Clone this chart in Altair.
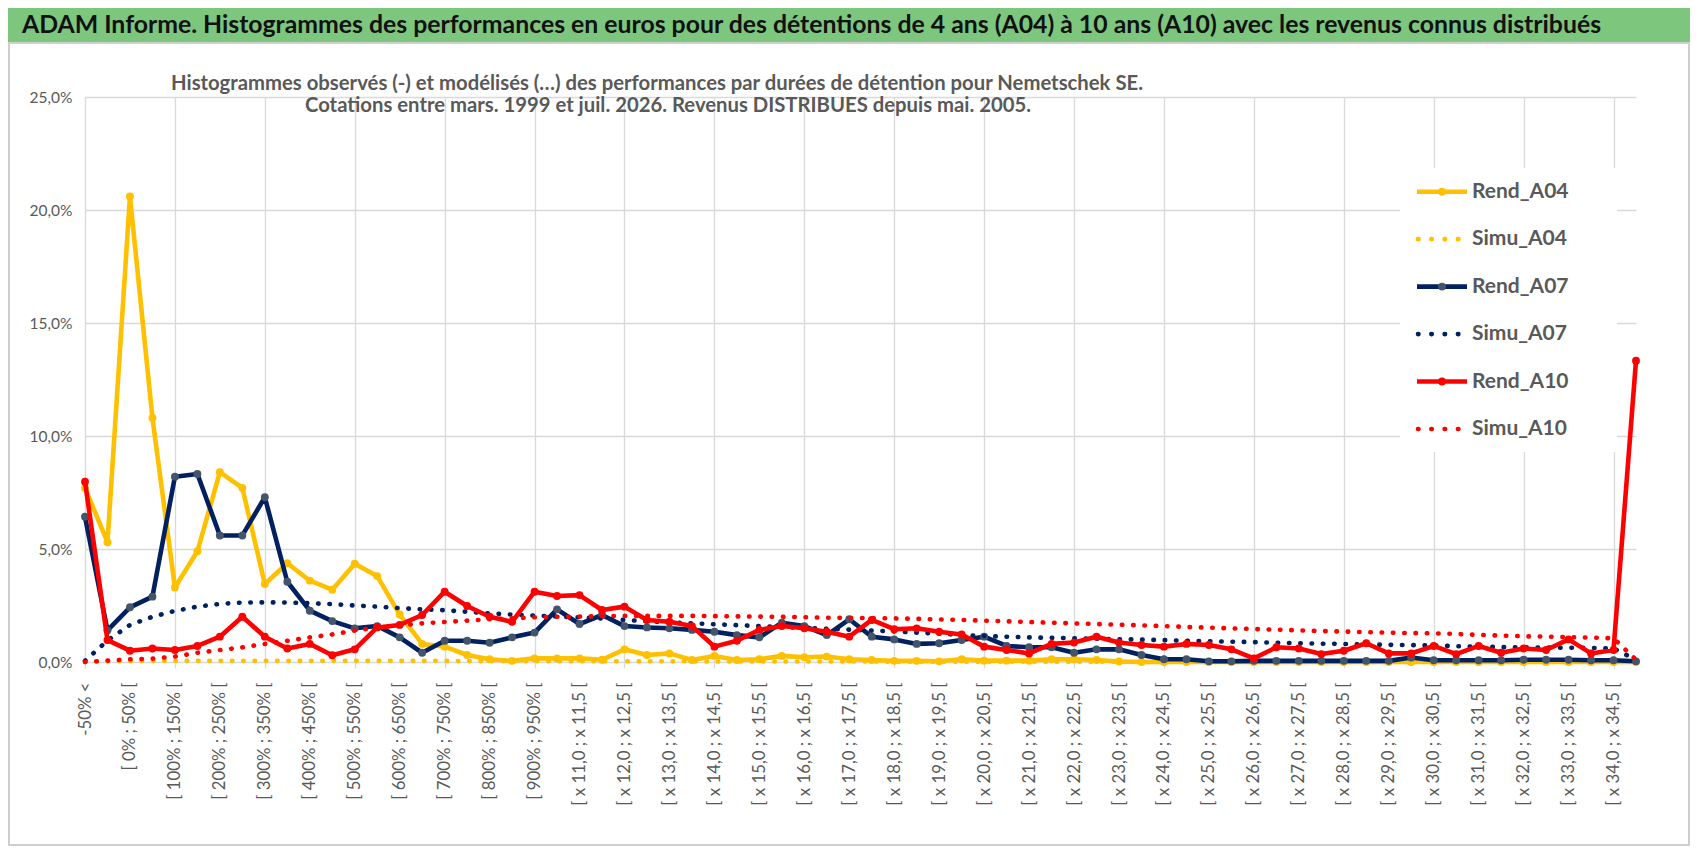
import json
import altair as alt
import pandas as pd

# ---------------- data ----------------
categories = [
    "-50% <", "[ -50% ; 0% [", "[ 0% ; 50% [", "[ 50% ; 100% [", "[ 100% ; 150% [",
    "[ 150% ; 200% [", "[ 200% ; 250% [", "[ 250% ; 300% [", "[ 300% ; 350% [", "[ 350% ; 400% [",
    "[ 400% ; 450% [", "[ 450% ; 500% [", "[ 500% ; 550% [", "[ 550% ; 600% [", "[ 600% ; 650% [",
    "[ 650% ; 700% [", "[ 700% ; 750% [", "[ 750% ; 800% [", "[ 800% ; 850% [", "[ 850% ; 900% [",
    "[ 900% ; 950% [", "[ 950% ; x 11,0 [", "[ x 11,0 ; x 11,5 [", "[ x 11,5 ; x 12,0 [", "[ x 12,0 ; x 12,5 [",
    "[ x 12,5 ; x 13,0 [", "[ x 13,0 ; x 13,5 [", "[ x 13,5 ; x 14,0 [", "[ x 14,0 ; x 14,5 [", "[ x 14,5 ; x 15,0 [",
    "[ x 15,0 ; x 15,5 [", "[ x 15,5 ; x 16,0 [", "[ x 16,0 ; x 16,5 [", "[ x 16,5 ; x 17,0 [", "[ x 17,0 ; x 17,5 [",
    "[ x 17,5 ; x 18,0 [", "[ x 18,0 ; x 18,5 [", "[ x 18,5 ; x 19,0 [", "[ x 19,0 ; x 19,5 [", "[ x 19,5 ; x 20,0 [",
    "[ x 20,0 ; x 20,5 [", "[ x 20,5 ; x 21,0 [", "[ x 21,0 ; x 21,5 [", "[ x 21,5 ; x 22,0 [", "[ x 22,0 ; x 22,5 [",
    "[ x 22,5 ; x 23,0 [", "[ x 23,0 ; x 23,5 [", "[ x 23,5 ; x 24,0 [", "[ x 24,0 ; x 24,5 [", "[ x 24,5 ; x 25,0 [",
    "[ x 25,0 ; x 25,5 [", "[ x 25,5 ; x 26,0 [", "[ x 26,0 ; x 26,5 [", "[ x 26,5 ; x 27,0 [", "[ x 27,0 ; x 27,5 [",
    "[ x 27,5 ; x 28,0 [", "[ x 28,0 ; x 28,5 [", "[ x 28,5 ; x 29,0 [", "[ x 29,0 ; x 29,5 [", "[ x 29,5 ; x 30,0 [",
    "[ x 30,0 ; x 30,5 [", "[ x 30,5 ; x 31,0 [", "[ x 31,0 ; x 31,5 [", "[ x 31,5 ; x 32,0 [", "[ x 32,0 ; x 32,5 [",
    "[ x 32,5 ; x 33,0 [", "[ x 33,0 ; x 33,5 [", "[ x 33,5 ; x 34,0 [", "[ x 34,0 ; x 34,5 [", "x 34,5 <",
]

rend_a04 = [7.7, 5.3, 20.6, 10.8, 3.3, 4.9, 8.4, 7.7, 3.45, 4.37,
            3.6, 3.2, 4.35, 3.8, 2.1, 0.8, 0.68, 0.31, 0.12, 0.05,
            0.16, 0.16, 0.16, 0.1, 0.56, 0.31, 0.38, 0.09, 0.27, 0.09,
            0.12, 0.27, 0.21, 0.24, 0.12, 0.09, 0.05, 0.05, 0.03, 0.12,
            0.06, 0.06, 0.06, 0.12, 0.12, 0.09, 0.02, 0.0, 0.0, 0.0,
            0.0, 0.0, 0.0, 0.0, 0.0, 0.0, 0.0, 0.0, 0.0, 0.0,
            0.0, 0.0, 0.0, 0.0, 0.0, 0.0, 0.0, 0.0, 0.0, 0.0]
simu_a04 = [0.0, 0.02, 0.04, 0.05, 0.05, 0.05, 0.05, 0.05, 0.05, 0.05,
            0.05, 0.05, 0.05, 0.05, 0.05, 0.05, 0.05, 0.04, 0.04, 0.04,
            0.04, 0.04, 0.03, 0.03, 0.03, 0.03, 0.03, 0.03, 0.02, 0.02,
            0.02, 0.02, 0.02, 0.02, 0.02, 0.02, 0.01, 0.01, 0.01, 0.01,
            0.01, 0.01, 0.01, 0.01, 0.01, 0.01, 0.01, 0.0, 0.0, 0.0,
            0.0, 0.0, 0.0, 0.0, 0.0, 0.0, 0.0, 0.0, 0.0, 0.0,
            0.0, 0.0, 0.0, 0.0, 0.0, 0.0, 0.0, 0.0, 0.0, 0.0]
rend_a07 = [6.43, 1.4, 2.42, 2.89, 8.2, 8.32, 5.6, 5.6, 7.29, 3.55,
            2.27, 1.81, 1.49, 1.59, 1.09, 0.41, 0.94, 0.94, 0.85, 1.09,
            1.3, 2.33, 1.68, 2.08, 1.59, 1.53, 1.49, 1.42, 1.34, 1.19,
            1.09, 1.74, 1.59, 1.19, 1.89, 1.12, 1.0, 0.8, 0.83, 0.97,
            1.12, 0.71, 0.65, 0.65, 0.41, 0.56, 0.56, 0.31, 0.12, 0.12,
            0.03, 0.03, 0.05, 0.05, 0.05, 0.05, 0.05, 0.05, 0.05, 0.2,
            0.08, 0.08, 0.08, 0.08, 0.1, 0.1, 0.1, 0.08, 0.08, 0.03]
simu_a07 = [0.05, 0.95, 1.64, 2.0, 2.26, 2.45, 2.57, 2.63, 2.64, 2.63,
            2.6, 2.56, 2.5, 2.45, 2.38, 2.33, 2.29, 2.22, 2.15, 2.1,
            2.05, 2.01, 1.98, 1.92, 1.86, 1.8, 1.75, 1.71, 1.67, 1.63,
            1.59, 1.55, 1.51, 1.47, 1.43, 1.39, 1.35, 1.3, 1.25, 1.2,
            1.15, 1.12, 1.09, 1.07, 1.05, 1.03, 1.01, 0.99, 0.97, 0.94,
            0.92, 0.9, 0.88, 0.85, 0.83, 0.81, 0.8, 0.78, 0.76, 0.75,
            0.73, 0.7, 0.68, 0.66, 0.65, 0.64, 0.63, 0.62, 0.6, 0.1]
rend_a10 = [7.98, 0.97, 0.5, 0.6, 0.53, 0.71, 1.12, 2.0, 1.12, 0.6,
            0.8, 0.3, 0.56, 1.53, 1.64, 2.08, 3.11, 2.48, 2.0, 1.78,
            3.11, 2.92, 2.96, 2.3, 2.45, 1.86, 1.78, 1.59, 0.68, 0.94,
            1.42, 1.59, 1.49, 1.34, 1.12, 1.86, 1.45, 1.49, 1.34, 1.22,
            0.68, 0.53, 0.38, 0.8, 0.86, 1.12, 0.86, 0.75, 0.68, 0.8,
            0.75, 0.56, 0.16, 0.65, 0.6, 0.35, 0.5, 0.83, 0.38, 0.38,
            0.71, 0.35, 0.71, 0.41, 0.6, 0.53, 1.0, 0.38, 0.53, 13.33]
simu_a10 = [0.0, 0.06, 0.12, 0.15, 0.24, 0.41, 0.53, 0.65, 0.8, 0.94,
            1.09, 1.22, 1.39, 1.53, 1.62, 1.71, 1.77, 1.83, 1.89, 1.93,
            1.98, 2.0, 2.01, 2.03, 2.04, 2.04, 2.04, 2.04, 2.03, 2.02,
            2.01, 2.0, 1.98, 1.96, 1.95, 1.94, 1.93, 1.91, 1.88, 1.86,
            1.83, 1.8, 1.77, 1.74, 1.71, 1.68, 1.65, 1.62, 1.59, 1.55,
            1.52, 1.49, 1.46, 1.43, 1.4, 1.37, 1.35, 1.32, 1.3, 1.28,
            1.27, 1.24, 1.2, 1.17, 1.14, 1.12, 1.1, 1.08, 1.05, 0.1]

series_names = ["Rend_A04", "Simu_A04", "Rend_A07", "Simu_A07", "Rend_A10", "Simu_A10"]
series_values = [rend_a04, simu_a04, rend_a07, simu_a07, rend_a10, simu_a10]
line_colors = ["#FFC000", "#FFC000", "#002060", "#002060", "#FF0000", "#FF0000"]
marker_colors = ["#FFC000", None, "#44546A", None, "#FF0000", None]

y_ticks = [0, 5, 10, 15, 20, 25]
x_label_ticks = list(range(0, 70, 2))

title_text = ("ADAM Informe. Histogrammes des performances en euros pour des détentions "
              "de 4 ans (A04) à 10 ans (A10) avec les revenus connus distribués")
subtitle_lines = [
    "Histogrammes observés (-) et modélisés (…) des performances par durées de détention pour Nemetschek SE.",
    "Cotations entre mars. 1999 et juil. 2026. Revenus DISTRIBUES depuis mai. 2005.",
]

# ---------------- layout ----------------
W, H = 1551, 565
FONT = "Lato"
GREY = "#595959"
GRID = "#D9D9D9"

label_expr = "[" + ",".join(json.dumps(c) for c in categories) + "][datum.value]"

x_enc = alt.X(
    "idx:Q",
    scale=alt.Scale(domain=[0, len(categories) - 1], nice=False, zero=False),
    axis=alt.Axis(
        values=x_label_ticks, labelExpr=label_expr, labelAngle=-90,
        labelFont=FONT, labelFontSize=16.8, labelColor=GREY, labelPadding=14,
        labelOverlap=False, labelBound=False, labelFlush=False,
        grid=True, gridColor=GRID, gridWidth=1.3,
        gridOpacity=alt.condition("datum.value % 4 === 0", alt.value(1), alt.value(0)),
        ticks=True, tickColor=GRID, tickSize=6, tickWidth=1.3,
        tickOpacity=alt.condition("datum.value % 4 === 0", alt.value(1), alt.value(0)),
        domain=False, title=None,
    ),
)
y_enc = alt.Y(
    "val:Q",
    scale=alt.Scale(domain=[0, 25], nice=False),
    axis=alt.Axis(
        values=y_ticks,
        labelExpr="replace(format(datum.value, '.1f'), '.', ',') + '%'",
        labelFont=FONT, labelFontSize=15.5, labelColor=GREY, labelPadding=13,
        grid=True, gridColor=GRID, gridWidth=1.3, ticks=False, domain=False, title=None,
    ),
)

main_layers = []
for name, vals, lc, mc in zip(series_names, series_values, line_colors, marker_colors):
    df = pd.DataFrame({"idx": list(range(len(vals))), "val": vals, "series": name})
    base = alt.Chart(df)
    if name.startswith("Rend"):
        main_layers.append(base.mark_line(color=lc, strokeWidth=4.6, strokeJoin="round")
                           .encode(x=x_enc, y=y_enc))
        main_layers.append(base.mark_circle(color=mc, size=62, opacity=1)
                           .encode(x=x_enc, y=y_enc))
    else:
        main_layers.append(base.mark_line(color=lc, strokeWidth=4.6, strokeCap="round",
                                          strokeDash=[0.5, 10.8])
                           .encode(x=x_enc, y=y_enc))
main = alt.layer(*main_layers)

# ---------------- legend (manual) ----------------
leg_df = pd.DataFrame({
    "series": series_names,
    "r": list(range(len(series_names))),
    "solid": [n.startswith("Rend") for n in series_names],
})
col_scale = alt.Scale(domain=series_names, range=line_colors)
mk_scale = alt.Scale(domain=["Rend_A04", "Rend_A07", "Rend_A10"],
                     range=["#FFC000", "#44546A", "#FF0000"])
leg_y = alt.Y("r:Q", scale=alt.Scale(domain=[0, 5], range=[94.7, 332]), axis=None)
leg_base = alt.Chart(leg_df)

leg_bg = alt.Chart(pd.DataFrame({"a": [0]})).mark_rect(fill="white", stroke=None).encode(
    x=alt.value(1315), x2=alt.value(1532), y=alt.value(71), y2=alt.value(355))
leg_solid = leg_base.transform_filter("datum.solid").mark_rule(strokeWidth=4.6).encode(
    x=alt.value(1332), x2=alt.value(1382), y=leg_y,
    color=alt.Color("series:N", scale=col_scale, legend=None))
leg_dot = leg_base.transform_filter("!datum.solid").mark_rule(
    strokeWidth=4.6, strokeCap="round", strokeDash=[0.5, 12.8]).encode(
    x=alt.value(1333), x2=alt.value(1386), y=leg_y,
    color=alt.Color("series:N", scale=col_scale, legend=None))
leg_mk = leg_base.transform_filter("datum.solid").mark_circle(size=62, opacity=1).encode(
    x=alt.value(1357), y=leg_y,
    fill=alt.Fill("series:N", scale=mk_scale, legend=None))
leg_txt = leg_base.mark_text(align="left", baseline="middle", font=FONT, fontWeight="bold",
                             fontSize=21, color=GREY).encode(
    x=alt.value(1387), y=leg_y, text="series:N")
legend = alt.layer(leg_bg, leg_solid, leg_dot, leg_mk, leg_txt)

# ---------------- titles / frame ----------------
one = pd.DataFrame({"a": [0]})
band = alt.Chart(one).mark_rect(fill="#7DC67D").encode(
    x=alt.value(-77), x2=alt.value(1605), y=alt.value(-89), y2=alt.value(-55))
band_line = alt.Chart(one).mark_rule(color="#D0D0D0", strokeWidth=2).encode(
    x=alt.value(-77), x2=alt.value(1605), y=alt.value(-54))
frame = alt.Chart(one).mark_rect(fill=None, stroke="#BFBFBF", strokeWidth=1.5, filled=False).encode(
    x=alt.value(-76), x2=alt.value(1604), y=alt.value(-88), y2=alt.value(748))
title_mark = alt.Chart(one).mark_text(
    text=title_text, align="left", baseline="alphabetic", font=FONT, fontWeight="bold",
    fontSize=24.8, color="#111111").encode(x=alt.value(-63), y=alt.value(-64))
sub1 = alt.Chart(one).mark_text(
    text=subtitle_lines[0], align="center", baseline="alphabetic", font=FONT, fontWeight="bold",
    fontSize=20.3, color=GREY).encode(x=alt.value(572), y=alt.value(-7))
sub2 = alt.Chart(one).mark_text(
    text=subtitle_lines[1], align="center", baseline="alphabetic", font=FONT, fontWeight="bold",
    fontSize=20.3, color=GREY).encode(x=alt.value(583), y=alt.value(15))
deco = alt.layer(frame, band, band_line, title_mark, sub1, sub2)

chart = alt.layer(main, legend, deco).resolve_scale(
    y="independent", color="independent", fill="independent"
).properties(
    width=W, height=H, autosize="none",
    padding={"left": 77, "top": 89, "right": 54, "bottom": 184},
    background="white",
).configure_view(stroke=None)

chart.save("out.html", embed_options={"renderer": "svg", "actions": False})
